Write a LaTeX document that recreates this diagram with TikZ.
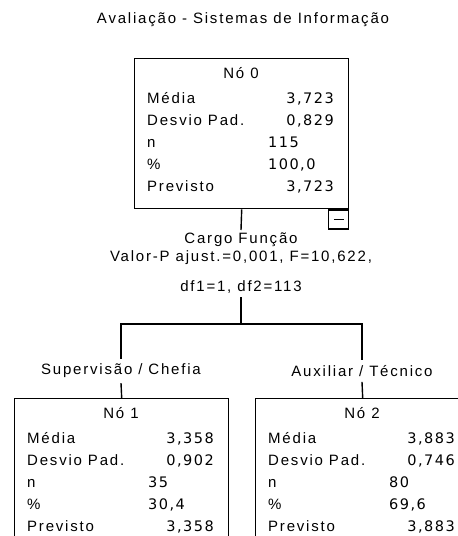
\documentclass[tikz,border=0pt]{standalone}
\usepackage{fontspec}
\setmainfont{Liberation Sans}[LetterSpace=12]
\newfontfamily\statnum{DejaVu Sans}[LetterSpace=10]
\usetikzlibrary{calc}

\tikzset{
  edge/.style={line width=1.4pt, black},
  statbox/.style={draw, line width=1.4pt, minimum width=214pt, minimum height=150pt,
                  anchor=north west, inner sep=0pt},
  txt/.style={inner sep=0pt, font=\fontsize{15}{18}\selectfont},
  numtxt/.style={inner sep=0pt, font=\fontsize{14.5}{18}\statnum},
  collapsebox/.style={draw, line width=1.2pt, minimum width=20pt, minimum height=19pt,
                      anchor=north east, inner sep=0pt},
}

% One tree node: frame, heading and the five statistics rows.
% #1 name, #2 left, #3 top, #4 heading, #5 mean, #6 sd, #7 n, #8 percent, #9 predicted
\newcommand\statpanel[9]{%
  \node[statbox] (#1) at (#2,#3) {};
  \node[txt, anchor=base] (#1-head) at (#2+107,#3+20) {#4};
  \node[txt, anchor=base west] (#1-l1) at (#2+13,#3+45)  {Média};
  \node[txt, anchor=base west] (#1-l2) at (#2+13,#3+67)  {Desvio Pad.};
  \node[txt, anchor=base west] (#1-l3) at (#2+13,#3+89)  {n};
  \node[txt, anchor=base west] (#1-l4) at (#2+13,#3+111) {\%};
  \node[txt, anchor=base west] (#1-l5) at (#2+13,#3+133) {Previsto};
  \node[numtxt, anchor=base east] (#1-v1) at (#2+200,#3+45)  {#5};
  \node[numtxt, anchor=base east] (#1-v2) at (#2+200,#3+67)  {#6};
  \node[numtxt, anchor=base west] (#1-v3) at (#2+134,#3+89)  {#7};
  \node[numtxt, anchor=base west] (#1-v4) at (#2+134,#3+111) {#8};
  \node[numtxt, anchor=base east] (#1-v5) at (#2+200,#3+133) {#9};
}

\begin{document}
\begin{tikzpicture}[x=1pt, y=-1pt]
  \useasboundingbox (0,0) rectangle (458,536);
  \fill[white] (0,0) rectangle (458,536);
  \clip (0,0) rectangle (458,536);

  \node[txt] (title) at (243,20) {Avaliação - Sistemas de Informação};

  % root
  \statpanel{n0}{134}{58}{Nó 0}{3,723}{0,829}{115}{100,0}{3,723}
  \node[collapsebox] (collapse) at (n0.south east) {};
  \draw[line width=1.1pt] ([xshift=-5pt]collapse.center) -- ([xshift=5pt]collapse.center);

  % split description
  \node[txt, inner sep=3pt, align=center, anchor=north] (split) at (241,230)
    {Cargo Função\\Valor-P ajust.=0,001, F=10,622,\\[12pt]df1=1, df2=113};

  \coordinate (fork) at (241,324);

  % branch labels
  \node[txt, inner sep=5pt] (b1) at (121,371) {Supervisão / Chefia};
  \node[txt, inner sep=5pt] (b2) at (362,371) {Auxiliar / Técnico};

  % children
  \statpanel{n1}{14}{398}{Nó 1}{3,358}{0,902}{35}{30,4}{3,358}
  \statpanel{n2}{255}{398}{Nó 2}{3,883}{0,746}{80}{69,6}{3,883}

  % connectors
  \draw[edge] (n0.south) -- (split.north);
  \draw[edge] (split.south) -- (fork);
  \draw[edge] (fork) -| (b1.north);
  \draw[edge] (fork) -| (b2.north);
  \draw[edge] (b1.south) -- (n1.north);
  \draw[edge] (b2.south) -- (n2.north);
\end{tikzpicture}
\end{document}
